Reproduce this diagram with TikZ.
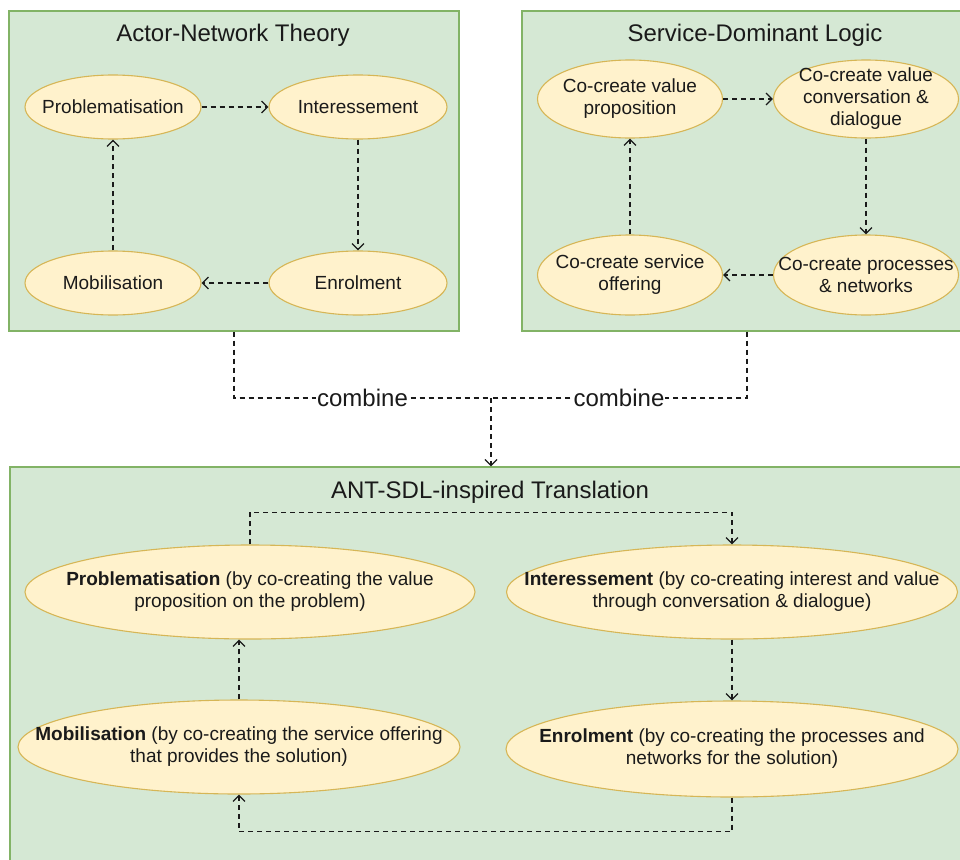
\documentclass[tikz,border=0pt]{standalone}
\usepackage{fontspec}
\setmainfont{Liberation Sans}
\usetikzlibrary{shapes.geometric,arrows.meta}

\definecolor{panelfill}{HTML}{D5E8D4}
\definecolor{panelline}{HTML}{82B366}
\definecolor{stagefill}{HTML}{FFF2CC}
\definecolor{stageline}{HTML}{D6B656}
\definecolor{ink}{HTML}{1A1A1A}

\begin{document}
\begin{tikzpicture}[x=1pt,y=-1pt,
  panel/.style={draw=panelline, fill=panelfill, line width=1.2pt, inner sep=0pt},
  stage/.style={ellipse, draw=stageline, fill=stagefill, line width=1.1pt, inner sep=0pt},
  stagetext/.style={align=center, text=ink, inner sep=0pt, font=\fontsize{19}{22}\selectfont},
  heading/.style={text=ink, inner sep=0pt, font=\fontsize{24}{28}\selectfont},
  flow/.style={draw=ink, line width=1.3pt, dash pattern=on 5pt off 4pt,
    -{Straight Barb[length=6pt,width=12pt,line width=1.3pt]}},
  joinlabel/.style={fill=white, text=ink, inner sep=1pt, font=\fontsize{24}{28}\selectfont},
]
\useasboundingbox (0,0) rectangle (960,859);
\begin{scope}
\clip (0,0) rectangle (960,859);

% three panels
\node[panel, minimum width=450pt, minimum height=320pt] (ant) at (234,171) {};
\node[panel, minimum width=450pt, minimum height=320pt] (sdl) at (747,171) {};
\node[panel, minimum width=962pt, minimum height=413pt] (trans) at (491,673.5) {};

\node[heading] (antTitle) at (233,35) {Actor-Network Theory};
\node[heading] (sdlTitle) at (755,35) {Service-Dominant Logic};
\node[heading] (transTitle) at (490,492) {ANT-SDL-inspired Translation};

% Actor-Network Theory cycle
\node[stage, minimum width=176pt, minimum height=64pt] (aProb) at (113,107) {};
\node[stage, minimum width=178pt, minimum height=64pt] (aInt) at (358,107) {};
\node[stage, minimum width=178pt, minimum height=64pt] (aEnr) at (358,283) {};
\node[stage, minimum width=176pt, minimum height=64pt] (aMob) at (113,283) {};
\node[stagetext] (aProbText) at (aProb) {Problematisation};
\node[stagetext] (aIntText) at (aInt) {Interessement};
\node[stagetext] (aEnrText) at (aEnr) {Enrolment};
\node[stagetext] (aMobText) at (aMob) {Mobilisation};

\draw[flow] (aProb) -- (aInt);
\draw[flow] (aInt) -- (aEnr);
\draw[flow] (aEnr) -- (aMob);
\draw[flow] (aMob) -- (aProb);

% Service-Dominant Logic cycle
\node[stage, minimum width=185pt, minimum height=78pt] (sProp) at (630,99) {};
\node[stage, minimum width=185pt, minimum height=78pt] (sConv) at (866,99) {};
\node[stage, minimum width=185pt, minimum height=80pt] (sProc) at (866,275) {};
\node[stage, minimum width=185pt, minimum height=80pt] (sOff) at (630,275) {};
\node[stagetext] (sPropText) at (sProp) {Co-create value\\proposition};
\node[stagetext] (sConvText) at (sConv) {Co-create value\\conversation \&\\dialogue};
\node[stagetext] (sProcText) at (sProc) {Co-create processes\\\& networks};
\node[stagetext] (sOffText) at (sOff) {Co-create service\\offering};

\draw[flow] (sProp) -- (sConv);
\draw[flow] (sConv) -- (sProc);
\draw[flow] (sProc) -- (sOff);
\draw[flow] (sOff) -- (sProp);

% combining both panels
\coordinate (join) at (491,398);
\draw[flow,-] (ant.south) |- node[joinlabel, pos=0.75] {combine} (join);
\draw[flow,-] (sdl.south) |- node[joinlabel, pos=0.75] {combine} (join);
\draw[flow] (join) -- (trans.north);

% translation cycle
\node[stage, minimum width=450pt, minimum height=94pt] (tProb) at (250,592) {};
\node[stage, minimum width=451pt, minimum height=94pt] (tInt) at (732,592) {};
\node[stage, minimum width=452pt, minimum height=96pt] (tEnr) at (732,749) {};
\node[stage, minimum width=442pt, minimum height=94pt] (tMob) at (239,747) {};
\node[stagetext] (tProbText) at (tProb)
  {\textbf{Problematisation} (by co-creating the value\\proposition on the problem)};
\node[stagetext] (tIntText) at (tInt)
  {\textbf{Interessement} (by co-creating interest and value\\through conversation \& dialogue)};
\node[stagetext] (tEnrText) at (tEnr)
  {\textbf{Enrolment} (by co-creating the processes and\\networks for the solution)};
\node[stagetext] (tMobText) at (tMob)
  {\textbf{Mobilisation} (by co-creating the service offering\\that provides the solution)};

\draw[flow] (tProb.north) -- ++(0,-32) -| (tInt.north);
\draw[flow] (tInt) -- (tEnr);
\draw[flow] (tEnr.south) -- ++(0,34) -| (tMob.south);
\draw[flow] (tMob.north) -- (tMob.north |- tProb.south);

\end{scope}
\end{tikzpicture}
\end{document}
